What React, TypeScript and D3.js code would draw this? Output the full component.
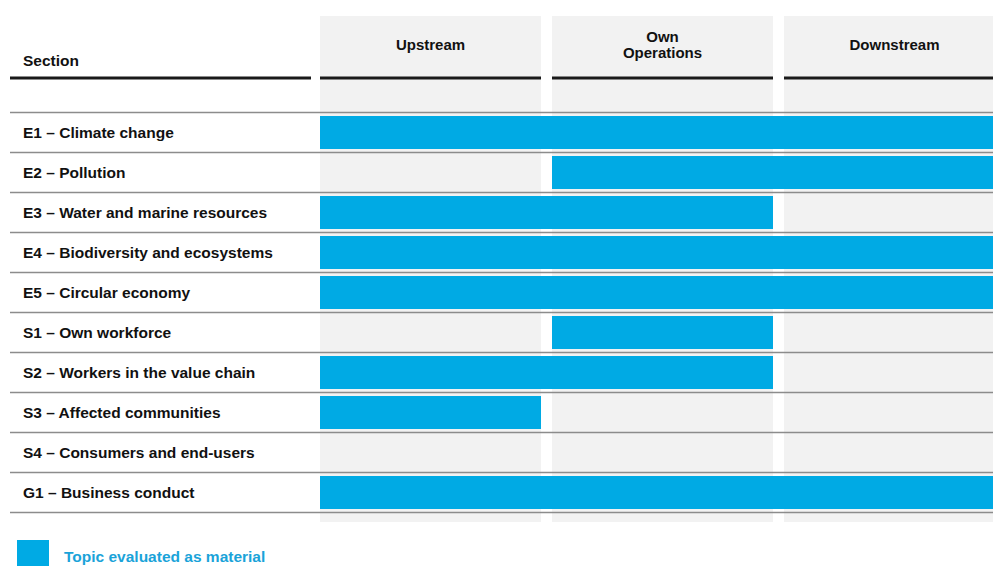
import React from "react";
import * as d3 from "d3";

const sections = [
  "E1 – Climate change",
  "E2 – Pollution",
  "E3 – Water and marine resources",
  "E4 – Biodiversity and ecosystems",
  "E5 – Circular economy",
  "S1 – Own workforce",
  "S2 – Workers in the value chain",
  "S3 – Affected communities",
  "S4 – Consumers and end-users",
  "G1 – Business conduct",
];
const stages = ["Upstream", "Own Operations", "Downstream"];
const stageLabels = [["Upstream"], ["Own", "Operations"], ["Downstream"]];
const upstream = [1, 0, 1, 1, 1, 0, 1, 1, 0, 1];
const ownOps = [1, 1, 1, 1, 1, 1, 1, 0, 0, 1];
const downstream = [1, 1, 0, 1, 1, 0, 0, 0, 0, 1];
const legendLabel = "Topic evaluated as material";

const W = 993;
const H = 566;
const FONT = "'Liberation Sans', Arial, sans-serif";
const BLUE = "#00AAE4";
const GRAY_BG = "#F2F2F2";

export default function App() {
  const x = d3.scaleBand<string>().domain(stages).range([320, 1005]).paddingInner(0.0474).paddingOuter(0);
  const y = d3.scaleBand<string>().domain(sections).range([112.5, 512.5]).padding(0);
  const bw = x.bandwidth();
  const rh = y.bandwidth();
  const matrix = sections.map((_, i) => [upstream[i], ownOps[i], downstream[i]]);

  const runs: { row: string; start: number; end: number }[] = [];
  matrix.forEach((vals, i) => {
    let s = -1;
    vals.forEach((v, j) => {
      if (v && s < 0) s = j;
      if ((!v || j === vals.length - 1) && s >= 0) {
        const e = v ? j : j - 1;
        runs.push({ row: sections[i], start: s, end: e });
        s = -1;
      }
    });
  });

  const lineYs = [...sections.map((s) => y(s)!), y(sections[sections.length - 1])! + rh];

  return (
    <svg width={W} height={H} style={{ position: "absolute", left: 0, top: 0, background: "#fff" }} fontFamily={FONT}>
      {stages.map((s) => (
        <rect key={s} x={x(s)} y={16} width={bw} height={506} fill={GRAY_BG} />
      ))}
      <text x={23} y={66} fontSize={15.5} fontWeight="bold" fill="#111">Section</text>
      {stages.map((s, i) => {
        const cx = x(s)! + bw / 2;
        const lines = stageLabels[i];
        return (
          <text key={s} x={cx} textAnchor="middle" fontSize={15} fontWeight="bold" fill="#111">
            {lines.map((l, k) => (
              <tspan key={k} x={cx} y={lines.length === 1 ? 50 : 42 + k * 15.5}>{l}</tspan>
            ))}
          </text>
        );
      })}
      <line x1={10} x2={311} y1={78} y2={78} stroke="#1a1a1a" strokeWidth={3} />
      {stages.map((s) => (
        <line key={s} x1={x(s)} x2={x(s)! + bw} y1={78} y2={78} stroke="#1a1a1a" strokeWidth={3} />
      ))}
      {runs.map((r, k) => (
        <rect
          key={k}
          x={x(stages[r.start])}
          y={y(r.row)! + 3.5}
          width={x(stages[r.end])! + bw - x(stages[r.start])!}
          height={rh - 7}
          fill={BLUE}
        />
      ))}
      {lineYs.map((ly, k) => (
        <line key={k} x1={10} x2={W} y1={ly} y2={ly} stroke="#8c8c8c" strokeWidth={1.5} />
      ))}
      {sections.map((s) => (
        <text key={s} x={23} y={y(s)! + rh / 2 + 5.5} fontSize={15.5} fontWeight="bold" fill="#111">
          {s}
        </text>
      ))}
      <rect x={17} y={540} width={32} height={32} fill={BLUE} />
      <text x={64} y={562} fontSize={15.5} fontWeight="bold" fill="#1AA3D9">{legendLabel}</text>
    </svg>
  );
}
